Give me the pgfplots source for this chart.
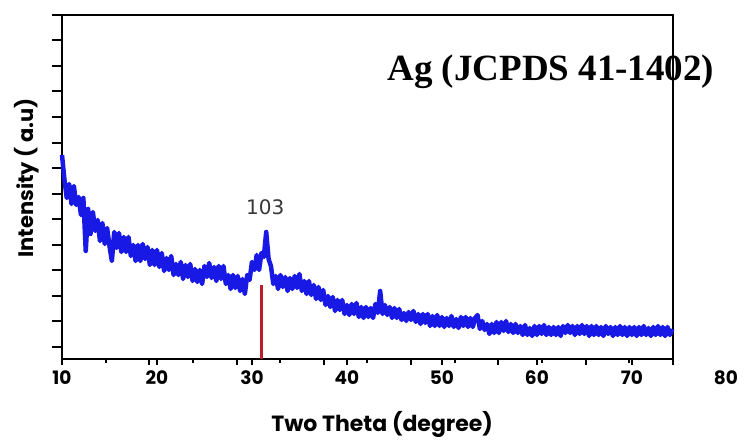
\documentclass[border=0pt]{standalone}
\usepackage{fontspec}
\setmainfont{Poppins}
\newfontfamily\serifbold{Liberation Serif}
\newfontfamily\dejavu{DejaVu Sans}
\usepackage{pgfplots}
\pgfplotsset{compat=1.18}
\definecolor{xrdblue}{RGB}{25,25,230}
\definecolor{refred}{RGB}{185,30,40}

\begin{document}
\begin{tikzpicture}
\useasboundingbox (0,0) rectangle (745pt,441pt);
\begin{axis}[
  at={(62pt,82pt)}, anchor=south west,
  scale only axis, width=611pt, height=344pt,
  xmin=10, xmax=74.33, ymin=0, ymax=344,
  clip=false,
  axis line style={line width=2.4pt},
  xtick pos=bottom, ytick pos=left,
  tick align=outside,
  every tick/.style={black, line width=2pt},
  major tick length=10pt,
  xtick={10,19.19,28.38,37.57,46.76,55.95,65.14,74.33},
  minor xtick={14.595,23.785,32.975,42.165,51.355,60.545,69.735},
  xtick style={/pgfplots/major tick length=6pt,/pgfplots/minor tick length=4pt},
  xticklabels={},
  ytick={12,37.55,63.1,88.65,114.2,139.75,165.3,190.85,216.4,241.95,267.5,293.05,318.6,344},
  yticklabels={},
  extra x ticks={10,20,30,40,50,60,70},
  extra x tick labels={10,20,30,40,50,60,70},
  extra x tick style={/pgfplots/major tick length=0pt,
    tick label style={font=\bfseries\fontsize{18.5}{20}\selectfont, anchor=center, yshift=-19pt}},
  xlabel={Two Theta (degree)},
  xlabel style={font=\bfseries\fontsize{22}{24}\selectfont, at={(axis description cs:0.524,-0.19)}, anchor=center},
  ylabel={Intensity ( a.u)},
  ylabel style={font=\bfseries\fontsize{21}{23}\selectfont, at={(axis description cs:-0.057,0.526)}, anchor=center, rotate=0},
]
\addplot[xrdblue, line width=4.5pt, line join=round, mark=none] coordinates {
(10.00,204) (10.25,180) (10.50,161) (10.75,175) (11.00,155) (11.25,173) (11.50,154) (11.75,162) (12.00,144)
(12.25,161) (12.50,108) (12.75,150) (13.00,125) (13.25,147) (13.50,128) (13.75,139) (14.00,118)
(14.25,136) (14.50,115) (14.75,131) (15.00,113) (15.25,98) (15.50,127) (15.75,111) (16.00,126)
(16.25,107) (16.50,122) (16.75,107) (17.00,122) (17.25,103) (17.50,114) (17.75,98) (18.00,114)
(18.25,98) (18.50,115) (18.75,100) (19.00,112) (19.25,94) (19.50,109) (19.75,94) (20.00,109)
(20.25,92) (20.50,106) (20.75,88) (21.00,101) (21.25,89) (21.50,103) (21.75,84) (22.00,95)
(22.25,84) (22.50,97) (22.75,80) (23.00,94) (23.25,82) (23.50,95) (23.75,78) (24.00,90)
(24.25,77) (24.50,89) (24.75,75) (25.00,93) (25.25,82) (25.50,96) (25.75,81) (26.00,92)
(26.25,78) (26.50,93) (26.75,80) (27.00,93) (27.25,75) (27.50,84) (27.75,70) (28.00,84)
(28.25,71) (28.50,83) (28.75,68) (29.00,80) (29.25,65) (29.50,84) (29.75,79) (30.00,97)
(30.25,89) (30.50,104) (30.75,89) (31.00,106) (31.25,102) (31.50,127) (31.75,100) (32.00,93)
(32.25,75) (32.50,83) (32.75,70) (33.00,84) (33.25,72) (33.50,82) (33.75,68) (34.00,81)
(34.25,70) (34.50,83) (34.75,71) (35.00,85) (35.25,68) (35.50,78) (35.75,65) (36.00,78)
(36.25,64) (36.50,74) (36.75,60) (37.00,72) (37.25,59) (37.50,69) (37.75,54) (38.00,63)
(38.25,52) (38.50,62) (38.75,48) (39.00,59) (39.25,49) (39.50,59) (39.75,45) (40.00,54)
(40.25,44) (40.50,55) (40.75,45) (41.00,56) (41.25,42) (41.50,52) (41.75,41) (42.00,52)
(42.25,42) (42.50,51) (42.75,41) (43.00,55) (43.25,46) (43.50,68) (43.75,45) (44.00,54)
(44.25,44) (44.50,52) (44.75,41) (45.00,51) (45.25,41) (45.50,50) (45.75,39) (46.00,46)
(46.25,38) (46.50,47) (46.75,39) (47.00,48) (47.25,37) (47.50,45) (47.75,35) (48.00,45)
(48.25,36) (48.50,45) (48.75,33) (49.00,43) (49.25,33) (49.50,44) (49.75,33) (50.00,42)
(50.25,32) (50.50,41) (50.75,33) (51.00,43) (51.25,32) (51.50,40) (51.75,31) (52.00,42)
(52.25,33) (52.50,42) (52.75,32) (53.00,41) (53.25,32) (53.50,41) (53.75,44) (54.00,30)
(54.25,38) (54.50,29) (54.75,35) (55.00,25) (55.25,35) (55.50,26) (55.75,37) (56.00,26)
(56.25,37) (56.50,28) (56.75,38) (57.00,27) (57.25,35) (57.50,26) (57.75,35) (58.00,26)
(58.25,33) (58.50,24) (58.75,34) (59.00,24) (59.25,31) (59.50,23) (59.75,33) (60.00,24)
(60.25,33) (60.50,25) (60.75,34) (61.00,24) (61.25,32) (61.50,24) (61.75,32) (62.00,24)
(62.25,32) (62.50,23) (62.75,33) (63.00,26) (63.25,34) (63.50,26) (63.75,33) (64.00,24)
(64.25,33) (64.50,25) (64.75,34) (65.00,25) (65.25,33) (65.50,23) (65.75,33) (66.00,24)
(66.25,33) (66.50,24) (66.75,32) (67.00,23) (67.25,33) (67.50,25) (67.75,32) (68.00,23)
(68.25,32) (68.50,24) (68.75,33) (69.00,24) (69.25,32) (69.50,23) (69.75,32) (70.00,24)
(70.25,32) (70.50,23) (70.75,32) (71.00,24) (71.25,33) (71.50,24) (71.75,31) (72.00,23)
(72.25,32) (72.50,24) (72.75,33) (73.00,24) (73.25,32) (73.50,23) (73.75,32) (74.00,24)
(74.25,30)
};
% reference line of the (103) reflection
\addplot[refred, line width=3pt, mark=none] coordinates {(31.05,0) (31.05,74)};
\node[font=\dejavu\fontsize{20}{22}\selectfont, text=black!78] at (axis cs:31.4,152) {103};
\node[font=\serifbold\bfseries\fontsize{37}{40}\selectfont, anchor=west] at (axis cs:43.9,287) {Ag (JCPDS 41-1402)};
\node[font=\bfseries\fontsize{18.5}{20}\selectfont] at (axis cs:79.9,-19) {80};
\end{axis}
\end{tikzpicture}
\end{document}
